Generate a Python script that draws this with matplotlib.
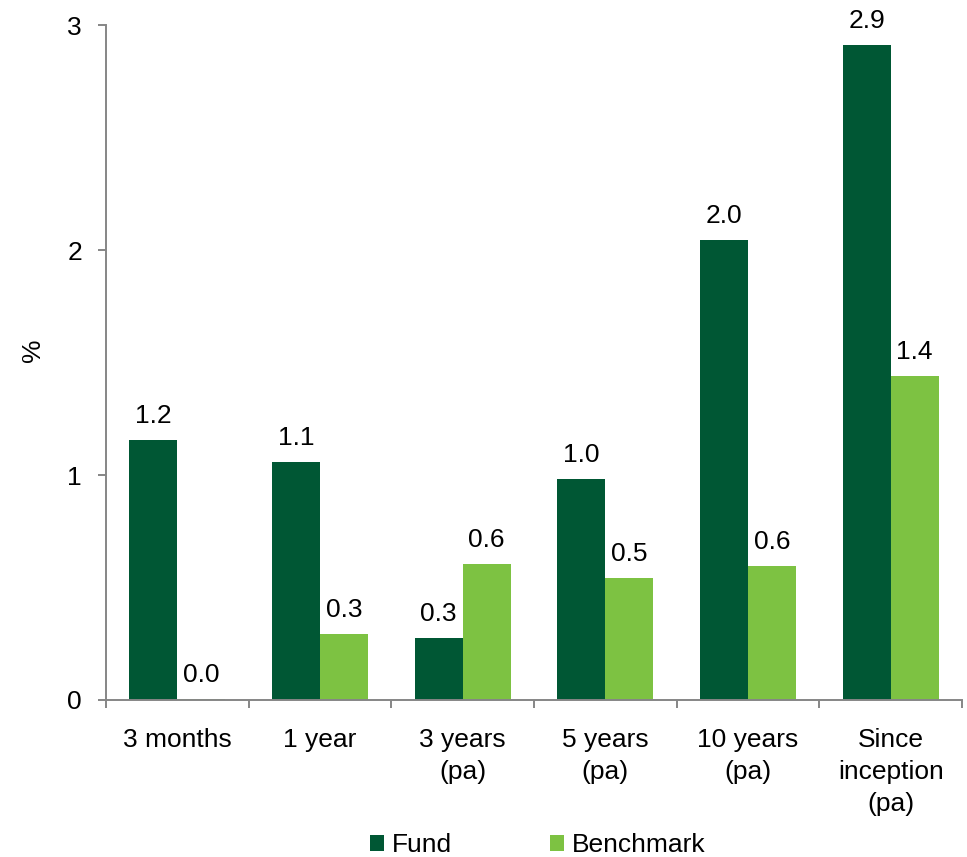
import numpy as np
import matplotlib
matplotlib.use("Agg")
import matplotlib.pyplot as plt

plt.rcParams['font.family'] = ['Liberation Sans', 'DejaVu Sans']

# Performance by period (%)
periods = ['3 months', '1 year', '3 years\n(pa)', '5 years\n(pa)', '10 years\n(pa)', 'Since\ninception\n(pa)']
fund = [1.156, 1.058, 0.276, 0.982, 2.044, 2.911]
benchmark = [0.004, 0.293, 0.604, 0.542, 0.596, 1.44]

fund_color = '#005734'
bench_color = '#7DC242'
axis_grey = '#868686'
fs = 19

fig = plt.figure(figsize=(9.67, 8.57), dpi=100)
ax = fig.add_axes([0.1096, 0.1832, 0.8852, 0.7876])

x = np.arange(len(periods))
w = 0.336
b1 = ax.bar(x - w / 2, fund, w, color=fund_color, label='Fund')
b2 = ax.bar(x + w / 2, benchmark, w, color=bench_color, label='Benchmark')

# value labels above each bar
for bars, vals in ((b1, fund), (b2, benchmark)):
    for rect, v in zip(bars, vals):
        ax.annotate(f'{v:.1f}', (rect.get_x() + rect.get_width() / 2, v),
                    xytext=(0, 12.5), textcoords='offset points',
                    ha='center', va='baseline', fontsize=fs)

ax.set_xlim(-0.5, len(periods) - 0.5)
ax.set_ylim(0, 3)
ax.set_yticks([0, 1, 2, 3])

# category labels at centres, tick marks at the boundaries
ax.set_xticks(x)
ax.set_xticklabels(periods, fontsize=fs, linespacing=1.42)
ax.set_xticks(np.arange(len(periods) + 1) - 0.5, minor=True)
ax.tick_params(axis='x', which='major', length=0, pad=20)
ax.tick_params(axis='x', which='minor', length=5.8, width=1.4, color=axis_grey)
ax.tick_params(axis='y', length=5.8, width=1.4, color=axis_grey, pad=11.5, labelsize=fs)

for side in ('top', 'right'):
    ax.spines[side].set_visible(False)
for side in ('left', 'bottom'):
    ax.spines[side].set_color(axis_grey)
    ax.spines[side].set_linewidth(1.4)

fig.text(33 / 967, 1 - 350 / 857, '%', rotation=90, ha='center', va='center', fontsize=fs)

fig.legend(handles=[b1, b2], loc='center', bbox_to_anchor=(0.556, 0.014),
           ncol=2, frameon=False, fontsize=fs, handlelength=0.55, handleheight=0.55,
           handletextpad=0.3, columnspacing=3.7, borderpad=0)

fig.savefig('out.png', dpi=100)
